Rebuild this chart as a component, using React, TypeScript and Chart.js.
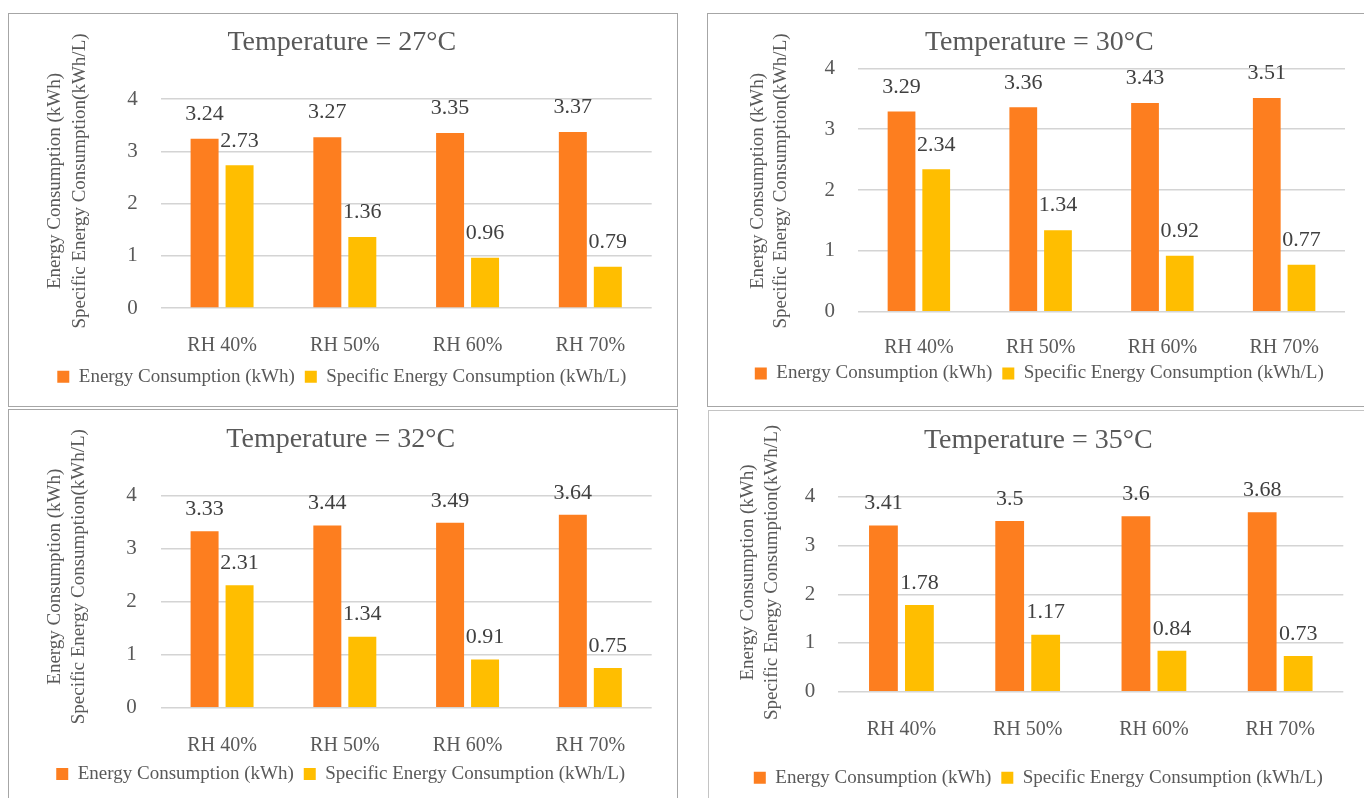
import React, { useEffect, useRef } from "react";
import { Chart, registerables } from "chart.js";

Chart.register(...registerables);

// ---- data ----
const categories = ["RH 40%", "RH 50%", "RH 60%", "RH 70%"];
const temperatures = ["27", "30", "32", "35"];

const energy27 = [3.24, 3.27, 3.35, 3.37];
const specific27 = [2.73, 1.36, 0.96, 0.79];

const energy30 = [3.29, 3.36, 3.43, 3.51];
const specific30 = [2.34, 1.34, 0.92, 0.77];

const energy32 = [3.33, 3.44, 3.49, 3.64];
const specific32 = [2.31, 1.34, 0.91, 0.75];

const energy35 = [3.41, 3.5, 3.6, 3.68];
const specific35 = [1.78, 1.17, 0.84, 0.73];

const yMin = 0;
const yMax = 4;
const yStep = 1;

const seriesNames = ["Energy Consumption (kWh)", "Specific Energy Consumption (kWh/L)"];
const axisTitleLines = ["Energy Consumption (kWh)", "Specific Energy Consumption(kWh/L)"];

// ---- styling ----
const ORANGE = "#FD7E1F";
const YELLOW = "#FFBE00";
const GRID = "#D4D4D4";
const TEXT = "#595959";
const LABEL_TEXT = "#404040";
const FAMILY = '"Liberation Serif", "Times New Roman", serif';

const TITLE_SIZE = 28;
const VALUE_SIZE = 22;
const YTICK_SIZE = 21;
const XTICK_SIZE = 20;
const LEGEND_SIZE = 19;
const AXIS_TITLE_SIZE = 19;
const LEGEND_PAD = 10;
const LEGEND_BOX = 12;

const PAGE_W = 1364;
const PAGE_H = 798;

type Rect = { left: number; top: number; right: number; bottom: number };
type PanelLayout = {
  box: Rect;
  plot: Rect;
  titleX: number;
  titleY: number;
  legendX: number;
  legendY: number;
  axisTitleX: [number, number];
  axisTitleY: number;
  tickGap: number;
  catGap: number;
  labelOffset: number;
  borderColor: string;
};

const layouts: PanelLayout[] = [
  {
    box: { left: 8, top: 13, right: 678, bottom: 407 },
    plot: { left: 160.7, right: 651.7, top: 99, bottom: 308 },
    titleX: 333.5, titleY: 42.5,
    legendX: 350, legendY: 376.7,
    axisTitleX: [55.5, 80], axisTitleY: 181,
    tickGap: 23, catGap: 18, labelOffset: 24.5,
    borderColor: "#A6A6A6",
  },
  {
    box: { left: 707, top: 13, right: 1372, bottom: 407 },
    plot: { left: 858, right: 1345, top: 68.3, bottom: 311.7 },
    titleX: 1031, titleY: 43,
    legendX: 1047.5, legendY: 373,
    axisTitleX: [758.5, 781], axisTitleY: 181,
    tickGap: 23, catGap: 16.3, labelOffset: 24.5,
    borderColor: "#A6A6A6",
  },
  {
    box: { left: 8, top: 409, right: 678, bottom: 806 },
    plot: { left: 160.7, right: 651.7, top: 495.7, bottom: 707.7 },
    titleX: 333.4, titleY: 439.7,
    legendX: 348, legendY: 774,
    axisTitleX: [55, 79], axisTitleY: 576.7,
    tickGap: 24, catGap: 17.6, labelOffset: 22,
    borderColor: "#A6A6A6",
  },
  {
    box: { left: 708, top: 410, right: 1372, bottom: 806 },
    plot: { left: 838.3, right: 1343.3, top: 496.7, bottom: 691.7 },
    titleX: 1031, titleY: 440.3,
    legendX: 1045.5, legendY: 777.7,
    axisTitleX: [748, 771.7], axisTitleY: 572.5,
    tickGap: 23, catGap: 18, labelOffset: 22,
    borderColor: "#C4C4C4",
  },
];

const panelData = [
  { temp: temperatures[0], energy: energy27, specific: specific27 },
  { temp: temperatures[1], energy: energy30, specific: specific30 },
  { temp: temperatures[2], energy: energy32, specific: specific32 },
  { temp: temperatures[3], energy: energy35, specific: specific35 },
];

function canvasRect(L: PanelLayout) {
  const left = L.box.left + 1;
  const top = L.box.top + 1;
  const right = Math.min(L.box.right - 1, PAGE_W);
  const bottom = Math.min(L.box.bottom - 1, PAGE_H);
  return { left, top, width: right - left, height: bottom - top };
}

function font(size: number) {
  return `${size}px ${FAMILY}`;
}

// value labels above each bar, positioned from the bar element itself
function makeValueLabels(offset: number) {
  return {
    id: "valueLabels",
    afterDatasetsDraw(chart: any) {
      const ctx = chart.ctx;
      ctx.save();
      ctx.font = font(VALUE_SIZE);
      ctx.fillStyle = LABEL_TEXT;
      ctx.textAlign = "center";
      ctx.textBaseline = "middle";
      chart.data.datasets.forEach((ds: any, di: number) => {
        const meta = chart.getDatasetMeta(di);
        meta.data.forEach((bar: any, i: number) => {
          ctx.fillText(String(ds.data[i]), bar.x, bar.y - offset);
        });
      });
      ctx.restore();
    },
  };
}

// two-line rotated y-axis title
function makeAxisTitle(xs: [number, number], y: number) {
  return {
    id: "axisTitle",
    afterDraw(chart: any) {
      const ctx = chart.ctx;
      ctx.save();
      ctx.font = font(AXIS_TITLE_SIZE);
      ctx.fillStyle = TEXT;
      ctx.textAlign = "center";
      ctx.textBaseline = "middle";
      axisTitleLines.forEach((line, i) => {
        ctx.save();
        ctx.translate(xs[i], y);
        ctx.rotate(-Math.PI / 2);
        ctx.fillText(line, 0, 0);
        ctx.restore();
      });
      ctx.restore();
    },
  };
}

function buildConfig(L: PanelLayout, d: { temp: string; energy: number[]; specific: number[] }): any {
  const c = canvasRect(L);
  const W = c.width;
  const H = c.height;
  const pl = L.plot.left - c.left;
  const pr = L.plot.right - c.left;
  const pt = L.plot.top - c.top;
  const pb = L.plot.bottom - c.top;

  // centre title and legend between their two measured centres
  const center = (L.titleX + L.legendX) / 2 - c.left;
  const diff = 2 * center - W;
  const padL = Math.max(diff, 0);
  const padR = Math.max(-diff, 0);

  const titleLH = TITLE_SIZE * 1.2;
  const titlePadTop = L.titleY - c.top - titleLH / 2;
  const titlePadBottom = Math.max(pt - titlePadTop - titleLH, 0);

  const itemH = Math.max(LEGEND_SIZE, LEGEND_BOX);
  const xAxisH = Math.max(
    L.legendY - c.top - LEGEND_PAD - itemH / 2 - pb,
    L.catGap + XTICK_SIZE + 6
  );
  const legendH = itemH + LEGEND_PAD + 10;
  const padBottom = Math.max(H - pb - xAxisH - legendH, 0);

  const yWidth = pl - padL;
  const y2Width = W - pr - padR;

  return {
    type: "bar",
    data: {
      labels: categories,
      datasets: [
        {
          label: seriesNames[0],
          data: d.energy,
          backgroundColor: ORANGE,
          borderWidth: 0,
          categoryPercentage: 0.57,
          barPercentage: 0.8,
        },
        {
          label: seriesNames[1],
          data: d.specific,
          backgroundColor: YELLOW,
          borderWidth: 0,
          categoryPercentage: 0.57,
          barPercentage: 0.8,
        },
      ],
    },
    options: {
      responsive: false,
      animation: false,
      devicePixelRatio: 1,
      layout: { padding: { left: padL, right: padR, top: 0, bottom: padBottom } },
      plugins: {
        title: {
          display: true,
          text: `Temperature = ${d.temp}°C`,
          color: TEXT,
          font: { family: FAMILY, size: TITLE_SIZE, weight: "normal", lineHeight: 1.2 },
          padding: { top: titlePadTop, bottom: titlePadBottom },
        },
        legend: {
          display: true,
          position: "bottom",
          labels: {
            color: TEXT,
            font: { family: FAMILY, size: LEGEND_SIZE },
            boxWidth: LEGEND_BOX,
            boxHeight: LEGEND_BOX,
            padding: LEGEND_PAD,
          },
        },
        tooltip: { enabled: false },
      },
      scales: {
        x: {
          grid: { display: false },
          border: { display: false },
          ticks: {
            color: TEXT,
            font: { family: FAMILY, size: XTICK_SIZE, lineHeight: 1.2 },
            padding: L.catGap,
            maxRotation: 0,
            autoSkip: false,
          },
          afterFit(s: any) {
            s.height = xAxisH;
          },
        },
        y: {
          min: yMin,
          max: yMax,
          grid: { color: GRID, lineWidth: 1.4, drawTicks: false },
          border: { display: false },
          ticks: {
            stepSize: yStep,
            color: TEXT,
            font: { family: FAMILY, size: YTICK_SIZE },
            padding: L.tickGap,
          },
          afterFit(s: any) {
            s.width = yWidth;
          },
        },
        y2: {
          type: "linear",
          position: "right",
          display: true,
          grid: { display: false, drawTicks: false },
          border: { display: false },
          ticks: { display: false },
          afterFit(s: any) {
            s.width = y2Width;
          },
        },
      },
    },
    plugins: [
      makeValueLabels(L.labelOffset),
      makeAxisTitle(
        [L.axisTitleX[0] - c.left, L.axisTitleX[1] - c.left],
        L.axisTitleY - c.top
      ),
    ],
  };
}

function Panel({ index }: { index: number }) {
  const ref = useRef<HTMLCanvasElement | null>(null);
  const L = layouts[index];
  const c = canvasRect(L);

  useEffect(() => {
    if (!ref.current) return;
    const chart = new Chart(ref.current, buildConfig(L, panelData[index]));
    return () => chart.destroy();
  }, [index]);

  return (
    <>
      <div
        style={{
          position: "absolute",
          left: L.box.left,
          top: L.box.top,
          width: L.box.right - L.box.left - 2,
          height: L.box.bottom - L.box.top - 2,
          border: `1px solid ${L.borderColor}`,
          background: "#FFFFFF",
        }}
      />
      <canvas
        ref={ref}
        width={c.width}
        height={c.height}
        style={{
          position: "absolute",
          left: c.left,
          top: c.top,
          width: c.width,
          height: c.height,
        }}
      />
    </>
  );
}

export default function App() {
  return (
    <div
      style={{
        position: "absolute",
        left: 0,
        top: 0,
        width: PAGE_W,
        height: PAGE_H,
        overflow: "hidden",
        background: "#FFFFFF",
      }}
    >
      {layouts.map((_, i) => (
        <Panel key={i} index={i} />
      ))}
    </div>
  );
}
